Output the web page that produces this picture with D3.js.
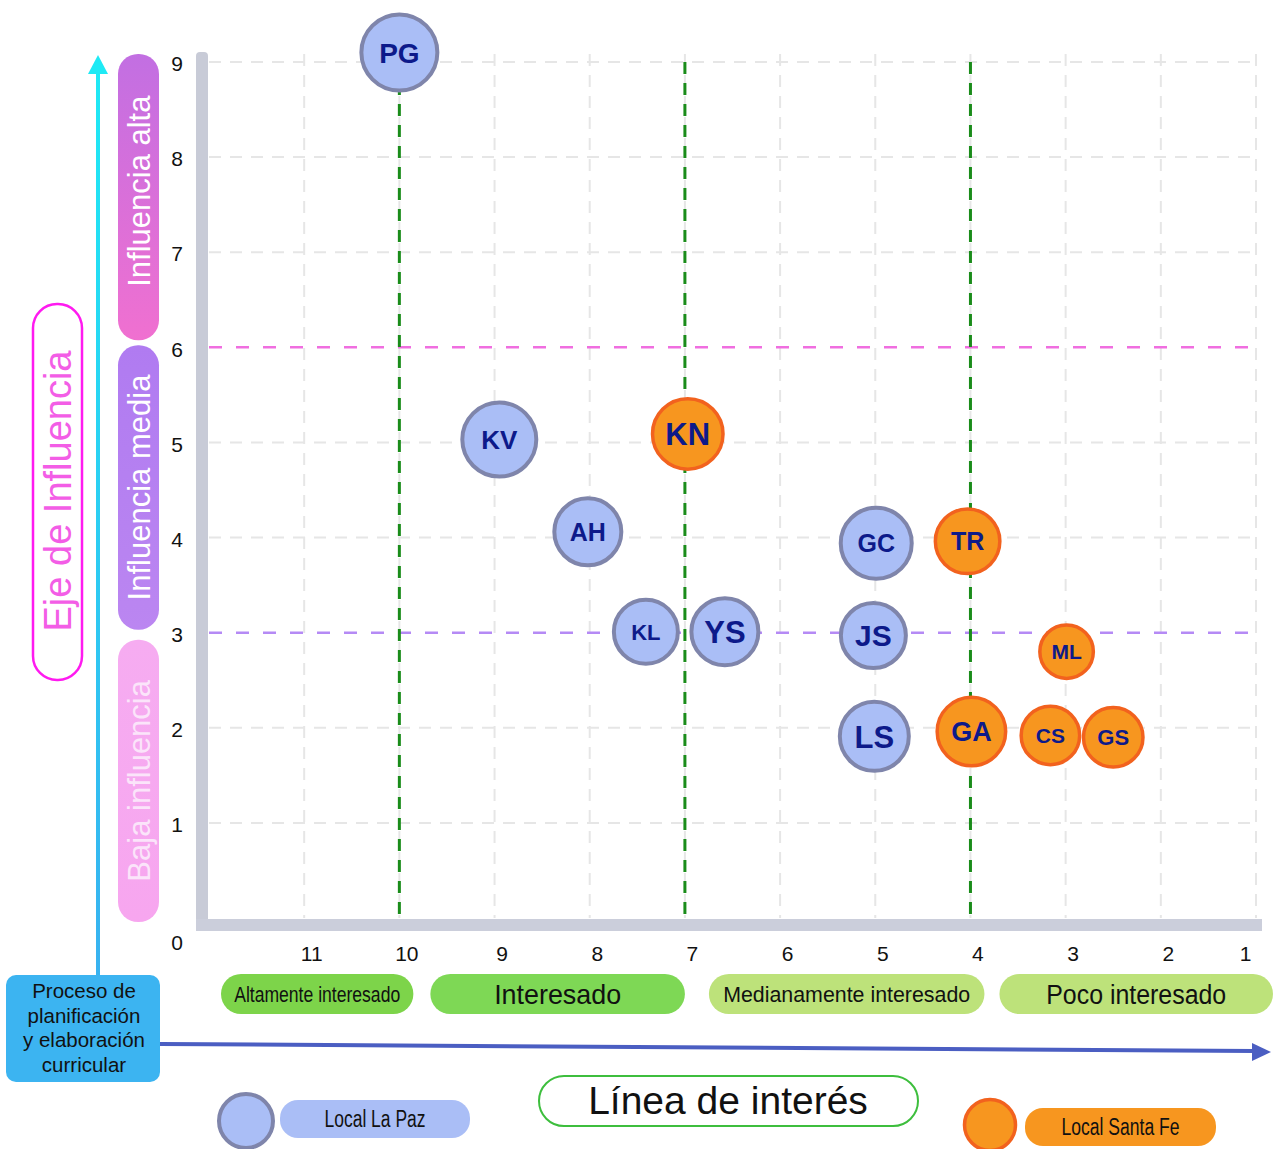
<!DOCTYPE html>
<html>
<head>
<meta charset="utf-8">
<script src="https://cdn.jsdelivr.net/npm/d3@7"></script>
<style>
  body { margin: 0; background: #fff; }
  svg { display: block; }
</style>
</head>
<body>
<svg id="chart" width="1273" height="1149"></svg>
<script>
// --- data ---
const ids = ["PG", "KV", "KN", "AH", "GC", "TR", "KL", "YS", "JS", "ML", "LS", "GA", "CS", "GS"];
const local = ["La Paz", "La Paz", "Santa Fe", "La Paz", "La Paz", "Santa Fe", "La Paz", "La Paz", "La Paz", "Santa Fe", "La Paz", "Santa Fe", "Santa Fe", "Santa Fe"];
const interest = [10, 8.95, 6.97, 8.02, 4.99, 4.03, 7.41, 6.58, 5.02, 2.99, 5.01, 3.99, 3.16, 2.5];
const influence = [9.1, 5.03, 5.09, 4.06, 3.94, 3.96, 3.01, 3.01, 2.97, 2.8, 1.91, 1.96, 1.92, 1.9];
const weight = [40, 39, 37, 35.5, 37.5, 34, 34, 35.5, 34.5, 28.5, 36.5, 36, 31, 31.5];

const xTicks = [11, 10, 9, 8, 7, 6, 5, 4, 3, 2, 1];
const yTicks = [0, 1, 2, 3, 4, 5, 6, 7, 8, 9];
const interestBands = ["Altamente interesado", "Interesado", "Medianamente interesado", "Poco interesado"];
const interestLimits = [[12, 10], [10, 7], [7, 4], [4, 1]];
const influenceBands = ["Influencia alta", "Influencia media", "Baja influencia"];
const influenceLimits = [[9, 6], [6, 3], [3, 0]];
const interestCuts = [10, 7, 4];
const legendItems = ["Local La Paz", "Local Santa Fe"];

// --- styles ---
const sans = '"Liberation Sans", Arial, Helvetica, sans-serif';
const narrow = '"Liberation Sans Narrow", "Arial Narrow", "Liberation Sans", Arial, sans-serif';
const colors = {
  "La Paz": {fill: "#aabef6", stroke: "#7f85ab", sw: 4},
  "Santa Fe": {fill: "#f7961f", stroke: "#f2621e", sw: 3.5}
};
const labelFont = {PG: 28, KV: 26, KN: 31, AH: 25, GC: 25, TR: 25, KL: 22, YS: 31, JS: 30, ML: 21, LS: 31, GA: 27, CS: 21, GS: 22};
const bandStyle = [
  {fill: "#7dd44a", size: 22, len: 166, dx0: 12, dx1: 14},
  {fill: "#7ed855", size: 28, len: 127, dx0: 31, dx1: 0},
  {fill: "#bde27a", size: 22, len: 247, dx0: 24, dx1: 14},
  {fill: "#bde27a", size: 27, len: 180, dx0: 29, dx1: 17}
];
const influenceStyle = [
  {top: -8, bottom: -7, grad: ["#c26fe2", "#f070d0"], text: "#ffffff"},
  {top: -2, bottom: -3, grad: ["#b07bf1", "#bb86f1"], text: "#ffffff"},
  {top: 7, bottom: 4, grad: ["#f6acf1", "#f7a6ef"], text: "#fbe4fa"}
];

const svg = d3.select("#chart");
const defs = svg.append("defs");

const x = d3.scaleLinear().domain([12, 1]).range([209, 1256]);
const y = d3.scaleLinear().domain([0, 9]).range([918, 62]);
const r = d3.scaleLinear().domain([0, 40]).range([0, 40]);

// gradients
const cyan = defs.append("linearGradient").attr("id", "cyanArrow")
  .attr("gradientUnits", "userSpaceOnUse").attr("x1", 0).attr("y1", 55).attr("x2", 0).attr("y2", 975);
cyan.append("stop").attr("offset", 0).attr("stop-color", "#1eeaf5");
cyan.append("stop").attr("offset", 1).attr("stop-color", "#38b2f0");

influenceStyle.forEach((s, i) => {
  const g = defs.append("linearGradient").attr("id", "inf" + i)
    .attr("x1", 0).attr("y1", 0).attr("x2", 0).attr("y2", 1);
  g.append("stop").attr("offset", 0).attr("stop-color", s.grad[0]);
  g.append("stop").attr("offset", 1).attr("stop-color", s.grad[1]);
});

// grid
const grid = svg.append("g").attr("stroke", "#e6e6e6").attr("stroke-width", 2).attr("stroke-dasharray", "12 9");
grid.selectAll("line.v").data(xTicks).join("line").attr("class", "v")
  .attr("x1", d => x(d)).attr("x2", d => x(d)).attr("y1", y(9) - 8).attr("y2", y(0));
grid.selectAll("line.h").data(yTicks.filter(d => d > 0 && d !== 3 && d !== 6)).join("line").attr("class", "h")
  .attr("x1", x(12)).attr("x2", x(1)).attr("y1", d => y(d)).attr("y2", d => y(d));

// influence thresholds
svg.append("line").attr("x1", x(12)).attr("x2", x(1)).attr("y1", y(6)).attr("y2", y(6))
  .attr("stroke", "#f06ee0").attr("stroke-width", 2.5).attr("stroke-dasharray", "13 14");
svg.append("line").attr("x1", x(12)).attr("x2", x(1)).attr("y1", y(3)).attr("y2", y(3))
  .attr("stroke", "#b58af5").attr("stroke-width", 2.5).attr("stroke-dasharray", "13 14");

// interest thresholds
svg.selectAll("line.cut").data(interestCuts).join("line").attr("class", "cut")
  .attr("x1", d => x(d)).attr("x2", d => x(d)).attr("y1", y(9)).attr("y2", y(0))
  .attr("stroke", "#1a8c1a").attr("stroke-width", 3).attr("stroke-dasharray", "12 9");

// gray frame
svg.append("rect").attr("x", 196).attr("y", 52).attr("width", 12).attr("height", 879).attr("rx", 4).attr("fill", "#c8cbd7");
svg.append("rect").attr("x", 196).attr("y", y(0) + 1).attr("width", x(1) + 6 - 196).attr("height", 12).attr("fill", "#cbcedb");

// axes
const xAxis = svg.append("g").attr("transform", "translate(7,946)")
  .call(d3.axisBottom(x).tickValues(xTicks).tickSize(0).tickPadding(0).tickFormat(d3.format("d")));
xAxis.select(".domain").remove();
xAxis.selectAll("text").attr("font-family", sans).attr("font-size", 21).attr("fill", "#111")
  .attr("x", d => (d === 1 ? -18 : 0));

const yAxis = svg.append("g").attr("transform", "translate(183,2)")
  .call(d3.axisLeft(y).tickValues(yTicks).tickSize(0).tickPadding(0).tickFormat(d3.format("d")));
yAxis.select(".domain").remove();
yAxis.selectAll("text").attr("font-family", sans).attr("font-size", 21).attr("fill", "#111")
  .attr("y", d => (d === 0 ? 23 : 0));

// bubbles
const pts = ids.map((id, i) => ({id, local: local[i], x: interest[i], y: influence[i], w: weight[i]}));
const bub = svg.append("g").selectAll("g").data(pts).join("g")
  .attr("transform", d => `translate(${x(d.x)},${y(d.y)})`);
bub.append("circle")
  .attr("r", d => r(d.w) - colors[d.local].sw / 2)
  .attr("fill", d => colors[d.local].fill)
  .attr("stroke", d => colors[d.local].stroke)
  .attr("stroke-width", d => colors[d.local].sw);
bub.append("text")
  .attr("text-anchor", "middle").attr("dy", "0.36em")
  .attr("font-family", sans).attr("font-weight", "bold")
  .attr("font-size", d => labelFont[d.id]).attr("fill", "#0d1a8a")
  .text(d => d.id);

// left decorations
svg.append("line").attr("x1", 98).attr("x2", 98).attr("y1", 70).attr("y2", 976)
  .attr("stroke", "url(#cyanArrow)").attr("stroke-width", 4);
svg.append("path").attr("d", "M98,55L88,74L108,74Z").attr("fill", "#1eeaf5");

svg.append("rect").attr("x", 33).attr("y", 304).attr("width", 49).attr("height", 376).attr("rx", 24)
  .attr("fill", "#fff").attr("stroke", "#ff1af0").attr("stroke-width", 2.5);
svg.append("text").attr("transform", "translate(57.5,491) rotate(-90)")
  .attr("text-anchor", "middle").attr("dy", "0.36em")
  .attr("font-family", sans).attr("font-size", 38).attr("fill", "#f35de6")
  .text("Eje de Influencia");

const infG = svg.append("g").selectAll("g").data(influenceBands).join("g");
infG.append("rect")
  .attr("x", 118).attr("width", 41).attr("rx", 20)
  .attr("y", (d, i) => y(influenceLimits[i][0]) + influenceStyle[i].top)
  .attr("height", (d, i) => y(influenceLimits[i][1]) + influenceStyle[i].bottom - y(influenceLimits[i][0]) - influenceStyle[i].top)
  .attr("fill", (d, i) => `url(#inf${i})`);
infG.append("text")
  .attr("transform", (d, i) => {
    const cy = (y(influenceLimits[i][0]) + influenceStyle[i].top + y(influenceLimits[i][1]) + influenceStyle[i].bottom) / 2;
    return `translate(138.5,${cy - (i === 0 ? 6 : 0)}) rotate(-90)`;
  })
  .attr("text-anchor", "middle").attr("dy", "0.36em")
  .attr("font-family", sans).attr("font-size", 31)
  .attr("fill", (d, i) => influenceStyle[i].text)
  .text(d => d);

// process box
svg.append("rect").attr("x", 6).attr("y", 975).attr("width", 154).attr("height", 107).attr("rx", 10).attr("fill", "#3cb4f1");
svg.append("text").attr("font-family", sans).attr("font-size", 20.5).attr("fill", "#111").attr("text-anchor", "middle")
  .selectAll("tspan").data(["Proceso de", "planificación", "y elaboración", "curricular"]).join("tspan")
  .attr("x", 84).attr("y", (d, i) => 998 + i * 24.5).text(d => d);

// interest arrow
svg.append("line").attr("x1", 160).attr("y1", 1044).attr("x2", 1254).attr("y2", 1051)
  .attr("stroke", "#4b5ec2").attr("stroke-width", 4);
svg.append("path").attr("d", "M1271,1052L1252,1043L1252,1061Z").attr("fill", "#4b5ec2");

// interest bands
const bandG = svg.append("g").selectAll("g").data(interestBands).join("g");
const bx0 = i => x(interestLimits[i][0]) + bandStyle[i].dx0;
const bx1 = i => x(interestLimits[i][1]) + bandStyle[i].dx1;
bandG.append("rect")
  .attr("x", (d, i) => bx0(i))
  .attr("width", (d, i) => bx1(i) - bx0(i))
  .attr("y", 974).attr("height", 40).attr("rx", 20)
  .attr("fill", (d, i) => bandStyle[i].fill);
bandG.append("text")
  .attr("x", (d, i) => (bx0(i) + bx1(i)) / 2)
  .attr("y", 994).attr("dy", "0.36em").attr("text-anchor", "middle")
  .attr("font-family", narrow).attr("font-size", (d, i) => bandStyle[i].size).attr("fill", "#111")
  .attr("textLength", (d, i) => bandStyle[i].len).attr("lengthAdjust", "spacingAndGlyphs")
  .text(d => d);

// axis title
svg.append("rect").attr("x", 539).attr("y", 1076).attr("width", 379).attr("height", 50).attr("rx", 25)
  .attr("fill", "#fff").attr("stroke", "#3dbe3d").attr("stroke-width", 2);
svg.append("text").attr("x", 728).attr("y", 1100).attr("dy", "0.36em").attr("text-anchor", "middle")
  .attr("font-family", sans).attr("font-size", 39).attr("fill", "#111")
  .text("Línea de interés");

// legend
const legendPos = [{cx: 246, cy: 1121, px: 280, py: 1100, pw: 190}, {cx: 990, cy: 1125, px: 1025, py: 1108, pw: 191}];
const legendText = [{len: 101}, {len: 118}];
const legKeys = ["La Paz", "Santa Fe"];
const leg = svg.append("g").selectAll("g").data(legendItems).join("g");
leg.append("circle")
  .attr("cx", (d, i) => legendPos[i].cx).attr("cy", (d, i) => legendPos[i].cy)
  .attr("r", (d, i) => (i === 0 ? 27 : 25.5))
  .attr("fill", (d, i) => colors[legKeys[i]].fill)
  .attr("stroke", (d, i) => colors[legKeys[i]].stroke)
  .attr("stroke-width", (d, i) => colors[legKeys[i]].sw);
leg.append("rect")
  .attr("x", (d, i) => legendPos[i].px).attr("y", (d, i) => legendPos[i].py)
  .attr("width", (d, i) => legendPos[i].pw).attr("height", 38).attr("rx", 18)
  .attr("fill", (d, i) => colors[legKeys[i]].fill);
leg.append("text")
  .attr("x", (d, i) => legendPos[i].px + legendPos[i].pw / 2)
  .attr("y", (d, i) => legendPos[i].py + 19).attr("dy", "0.36em").attr("text-anchor", "middle")
  .attr("font-family", narrow).attr("font-size", 23).attr("fill", "#111")
  .attr("textLength", (d, i) => legendText[i].len).attr("lengthAdjust", "spacingAndGlyphs")
  .text(d => d);
</script>
</body>
</html>
